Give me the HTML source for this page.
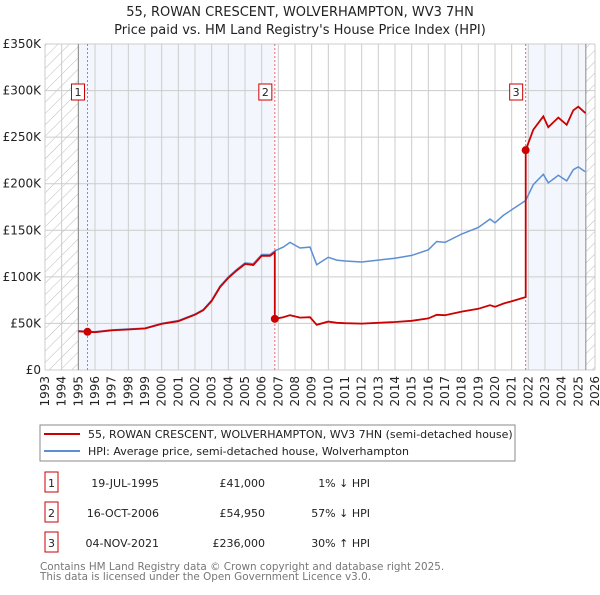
<!DOCTYPE html>
<html><head><meta charset="utf-8"><style>
body{margin:0;background:#fff;font-family:"Liberation Sans","DejaVu Sans",sans-serif;}
svg text{font-family:"DejaVu Sans","Liberation Sans",sans-serif;}
</style></head><body>
<svg id="c" width="600" height="590" xmlns="http://www.w3.org/2000/svg">
<defs><pattern id="h" width="8" height="8" patternUnits="userSpaceOnUse" patternTransform="rotate(45)"><line x1="0" y1="0" x2="0" y2="8" stroke="#bbb" stroke-width="1"/></pattern></defs>
<text x="300" y="16" text-anchor="middle" font-size="13" fill="#222">55, ROWAN CRESCENT, WOLVERHAMPTON, WV3 7HN</text>
<text x="300" y="34" text-anchor="middle" font-size="13" fill="#222">Price paid vs. HM Land Registry's House Price Index (HPI)</text>
<g id="plot"></g>
<g>
<rect x="40" y="425" width="475" height="36" fill="#fff" stroke="#888"/>
<line x1="44" y1="434" x2="80" y2="434" stroke="#cc0000" stroke-width="2"/>
<text x="88" y="438" font-size="11" fill="#222">55, ROWAN CRESCENT, WOLVERHAMPTON, WV3 7HN (semi-detached house)</text>
<line x1="44" y1="451" x2="80" y2="451" stroke="#5b8fd4" stroke-width="2"/>
<text x="88" y="455" font-size="11" fill="#222">HPI: Average price, semi-detached house, Wolverhampton</text>
</g>
<g id="tbl" font-size="11" fill="#222"></g>
<text x="40" y="570" font-size="10.4" fill="#777">Contains HM Land Registry data © Crown copyright and database right 2025.</text>
<text x="40" y="580" font-size="10.4" fill="#777">This data is licensed under the Open Government Licence v3.0.</text>
</svg>
<script>
const hpiYears=[1995,1996,1997,1998,1999,2000,2001,2002,2002.5,2003,2003.5,2004,2004.5,2005,2005.5,2006,2006.5,2006.8,2007.3,2007.7,2008.3,2008.9,2009.3,2010,2010.5,2011,2012,2013,2014,2015,2016,2016.5,2017,2018,2019,2019.7,2020,2020.5,2021,2021.84,2022.3,2022.9,2023.2,2023.5,2023.8,2024.3,2024.7,2025,2025.4];
const hpiValues=[42,41,43,44,45,50,53,60,65,75,90,100,108,115,114,124,124,128,132,137,131,132,113,121,118,117,116,118,120,123,129,138,137,146,153,162,158,166,172,182,199,210,201,205,209,203,215,218,213];
const saleYears=[1995.55,2006.79,2021.84];
const salePrices=[41,54.95,236];
const saleLabels=["1","2","3"];
const saleDates=["19-JUL-1995","16-OCT-2006","04-NOV-2021"];
const salePriceText=["£41,000","£54,950","£236,000"];
const saleHpiText=["1% ↓ HPI","57% ↓ HPI","30% ↑ HPI"];
const yTicks=[0,50,100,150,200,250,300,350];
const yTickLabels=["£0","£50K","£100K","£150K","£200K","£250K","£300K","£350K"];
const xYears=[];for(let y=1993;y<=2026;y++)xYears.push(y);

const NS="http://www.w3.org/2000/svg";
const X0=45,X1=595,Y0=370,Y1=44;
const xs=y=>X0+(y-1993)/(2026-1993)*(X1-X0);
const ys=v=>Y0-v/350*(Y0-Y1);
const plot=document.getElementById('plot');
function mk(t,a,p){const e=document.createElementNS(NS,t);for(const k in a)e.setAttribute(k,a[k]);(p||plot).appendChild(e);return e;}
function hpiAt(y){for(let i=0;i<hpiYears.length-1;i++){if(y<=hpiYears[i+1]){const f=(y-hpiYears[i])/(hpiYears[i+1]-hpiYears[i]);return hpiValues[i]+f*(hpiValues[i+1]-hpiValues[i]);}}return hpiValues[hpiValues.length-1];}
const endY=2025.45;
let r=mk('rect',{x:xs(1995),y:Y1,width:xs(saleYears[1])-xs(1995),height:Y0-Y1,fill:'#eef3fc',opacity:0.7});

r=mk('rect',{x:xs(saleYears[2]),y:Y1,width:xs(endY)-xs(saleYears[2]),height:Y0-Y1,fill:'#eef3fc',opacity:0.7});

r=mk('rect',{x:X0,y:Y1,width:xs(1995)-X0,height:Y0-Y1,fill:'url(#h)'});

r=mk('rect',{x:xs(endY),y:Y1,width:X1-xs(endY),height:Y0-Y1,fill:'url(#h)'});

xYears.forEach(y=>{const l=mk('line',{x1:xs(y),x2:xs(y),y1:Y1,y2:Y0,stroke:'#ccc','stroke-width':1});

const t=mk('text',{x:0,y:0,transform:`translate(${xs(y)+4},${Y0+6}) rotate(-90)`,'text-anchor':'end','font-size':12,fill:'#222'});t.textContent=y;
});
yTicks.forEach((v,i)=>{const l=mk('line',{x1:X0,x2:X1,y1:ys(v),y2:ys(v),stroke:'#ccc','stroke-width':1});

const t=mk('text',{x:X0-4,y:ys(v)+4,'text-anchor':'end','font-size':12,fill:'#222'});t.textContent=yTickLabels[i];
});
let b=mk('line',{x1:xs(1995),x2:xs(1995),y1:Y1,y2:Y0,stroke:'#888'});
b=mk('line',{x1:xs(endY),x2:xs(endY),y1:Y1,y2:Y0,stroke:'#888'});
saleYears.forEach((sy,i)=>{const l=mk('line',{x1:xs(sy),x2:xs(sy),y1:Y1,y2:Y0,stroke:'#e66',"stroke-dasharray":'2,2'});

const g=mk('rect',{x:xs(sy)-16,y:84,width:13,height:16,fill:'#fff',stroke:'#cc0000'});

const t=mk('text',{x:xs(sy)-9.5,y:96,'text-anchor':'middle','font-size':11,fill:'#222'});t.textContent=saleLabels[i];
});
let d='';hpiYears.forEach((y,i)=>{d+=(i?'L':'M')+xs(y).toFixed(1)+','+ys(hpiValues[i]).toFixed(1);});
const hp=mk('path',{d:d,fill:'none',stroke:'#5b8fd4','stroke-width':1.5});

const pts=[];
const r0=salePrices[0]/hpiAt(saleYears[0]);
pts.push([hpiYears[0],hpiValues[0]*r0]);
for(let s=0;s<saleYears.length;s++){const ratio=salePrices[s]/hpiAt(saleYears[s]);const end=s<saleYears.length-1?saleYears[s+1]:endY;
pts.push([saleYears[s],salePrices[s]]);
hpiYears.forEach((y,i)=>{if(y>saleYears[s]&&y<end)pts.push([y,hpiValues[i]*ratio]);});
pts.push([end,hpiAt(end)*ratio]);}
let rd='';pts.forEach((p,i)=>{rd+=(i?'L':'M')+xs(p[0]).toFixed(1)+','+ys(p[1]).toFixed(1);});
const rp=mk('path',{d:rd,fill:'none',stroke:'#cc0000','stroke-width':1.8});

saleYears.forEach((sy,i)=>{const c=mk('circle',{cx:xs(sy),cy:ys(salePrices[i]),r:4,fill:'#cc0000'});
});
const tbl=document.getElementById('tbl');
saleLabels.forEach((l,i)=>{const y=483+i*30;
const bx=mk('rect',{x:45,y:y-11,width:13,height:20,fill:'#fff',stroke:'#cc0000'},tbl);
let t=mk('text',{x:51.5,y:y+4,'text-anchor':'middle'},tbl);t.textContent=l;
t=mk('text',{x:159,y:y+4,'text-anchor':'end'},tbl);t.textContent=saleDates[i];
t=mk('text',{x:265,y:y+4,'text-anchor':'end'},tbl);t.textContent=salePriceText[i];
t=mk('text',{x:370,y:y+4,'text-anchor':'end'},tbl);t.textContent=saleHpiText[i];});
</script>
</body></html>
